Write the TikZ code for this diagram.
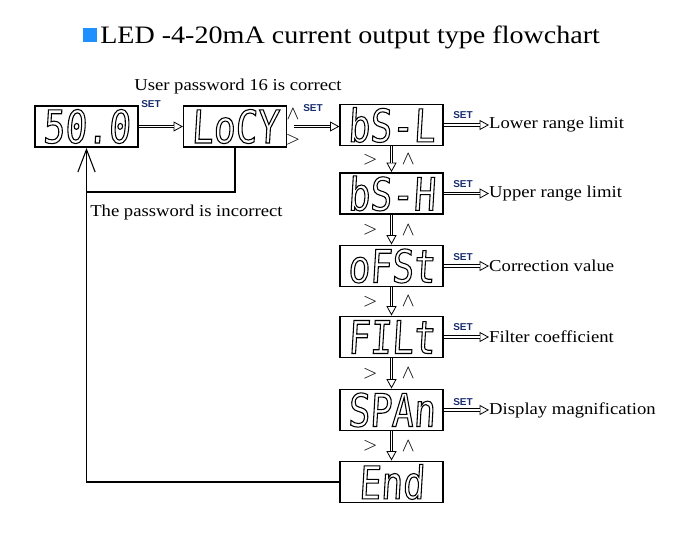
\documentclass[tikz,border=0pt]{standalone}
\usepackage{fontspec}
\setmainfont{Liberation Serif}[FakeStretch=1.12]
\newfontfamily\segfont{DejaVu Sans Mono}[FakeStretch=0.8,FakeSlant=0.06]
\newfontfamily\tagfont{Liberation Sans}
\usetikzlibrary{arrows.meta}
\definecolor{titleblue}{RGB}{30,144,255}
\definecolor{setnavy}{RGB}{25,45,110}
\newcommand\seg[1]{\special{pdf:literal direct 1 Tr 0.8 w}#1\special{pdf:literal direct 0 Tr}}
\tikzset{
    lcd/.style={draw, line width=1.2pt, minimum width=77pt, minimum height=31pt, inner sep=0pt,
        font=\segfont\fontsize{34}{34}\selectfont},
    settag/.style={font=\tagfont\bfseries\fontsize{7.5}{8}\selectfont, text=setnavy, inner sep=0pt},
    setarrow/.style={line width=2.6pt, -{Triangle[open, length=7pt, width=7.5pt, line width=0.6pt]},
        postaction={draw=white, line width=1.3pt, -, shorten >=7pt}},
    lbl/.style={font=\fontsize{12.5}{14}\selectfont, inner sep=0pt},
    keymark/.style={inner sep=0pt, font=\fontsize{14}{14}\selectfont}
}
\begin{document}
\begin{tikzpicture}[x=0.75pt, y=-0.75pt]
    \useasboundingbox (0,0) rectangle (682,534);
    \node[fill=titleblue, minimum size=10.5pt, inner sep=0pt] (bullet) at (90,35) {};
    \node[anchor=west, inner sep=0pt, font=\fontsize{18.8}{22}\selectfont] (title) at (100,37) {LED -4-20mA current output type flowchart};

    \node[lcd] (d500) at (86.5,126.5) {\seg{50.0}};
    \node[lcd] (locy) at (235,126.5) {\seg{LoCY}};
    \node[lcd] (bsl) at (391.5,125) {\seg{bS-L}};
    \node[lcd] (bsh) at (391.5,193.5) {\seg{bS-H}};
    \node[lcd] (ofst) at (391.5,266) {\seg{oFSt}};
    \node[lcd] (filt) at (391.5,337) {\seg{FILt}};
    \node[lcd] (span) at (391.5,410) {\seg{SPAn}};
    \node[lcd] (end) at (391.5,482) {\seg{End}};

    \node[lbl] (pwok) at (238,86) {User password 16 is correct};
    \node[lbl, anchor=west] (pwbad) at (90,212) {The password is incorrect};

    \node[settag] (set1) at (151,104) {SET};
    \node[settag] (set2) at (313,108) {SET};
    \node[keymark] (up0) at (293,114) {$\wedge$};
    \node[keymark] (gt0) at (293,140) {$>$};
    \draw[setarrow] (d500.east) -- (locy.west);
    \draw[setarrow, shorten <=5pt] (locy.east) -- (locy.east -| bsl.west);

    \foreach \disp/\tag/\txt/\ty in {bsl/s3/Lower range limit/115, bsh/s4/Upper range limit/184,
        ofst/s5/Correction value/257, filt/s6/Filter coefficient/327, span/s7/Display magnification/402} {
        \node[settag] (\tag) at (463,\ty) {SET};
        \node[lbl, anchor=west] (l\tag) at ([xshift=34pt]\disp.east) {\txt};
        \draw[setarrow] (\disp.east) -- (l\tag.west);
    }

    \foreach \a/\b in {bsl/bsh, bsh/ofst, ofst/filt, filt/span, span/end} {
        \draw[setarrow] (\a.south) -- (\b.north);
        \path (\a.south) -- (\b.north) node[midway, xshift=-16pt, keymark] (gt\a) {$>$}
            node[midway, xshift=12.5pt, keymark] (up\a) {$\wedge$};
    }

    \coordinate (fbj) at (86.5,192);
    \draw[line width=0.8pt] (locy.south) |- (fbj);
    \draw[line width=0.8pt, -{Straight Barb[length=17pt,width=13pt,line width=0.8pt]}] (end.west) -| (d500.south);
\end{tikzpicture}
\end{document}
